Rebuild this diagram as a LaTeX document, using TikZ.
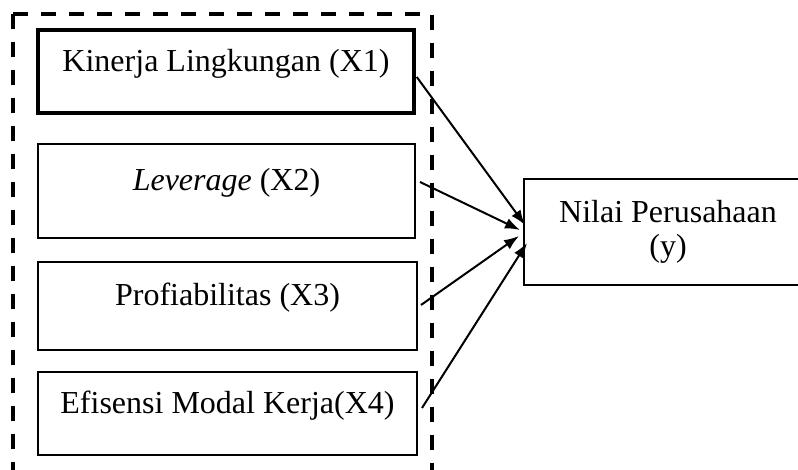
\documentclass[tikz,border=0pt]{standalone}
\usepackage{fontspec}
\setmainfont{Liberation Serif}
\usetikzlibrary{arrows.meta}
\begin{document}
\begin{tikzpicture}[x=1pt, y=1pt, font=\fontsize{32}{34}\selectfont, line join=miter, >={Latex[length=15pt,width=11pt]},
		varbox/.style={draw, line width=2pt, inner sep=0pt, text height=21pt, text depth=21pt},
		link/.style={->, line width=2pt}]
			\useasboundingbox (0,0) rectangle (798,470);
			\clip (0,0) rectangle (798,470);
			\draw[line width=4pt, dash pattern=on 15pt off 13pt] (13,456)--(13,-20);
			\draw[line width=4pt, dash pattern=on 15pt off 13pt] (13,456)--(432,456)--(432,-20);
			\node[varbox, line width=3.5pt, minimum width=376pt, minimum height=83pt] (x1) at (226,398.5) {Kinerja Lingkungan (X1)};
			\node[varbox, minimum width=377pt, minimum height=94pt] (x2) at (226.5,279) {\textit{Leverage} (X2)};
			\node[varbox, minimum width=379pt, minimum height=88pt] (x3) at (227.5,164) {Profiabilitas (X3)};
			\node[varbox, minimum width=379pt, minimum height=83pt] (x4) at (227.5,56.5) {Efisensi Modal Kerja(X4)};
			\node[draw, line width=2pt, align=center, minimum width=288pt, minimum height=106pt] (y) at (668,238) {Nilai Perusahaan\\(y)};
			\draw[link] ([shift={(1pt,-5.5pt)}]x1.east)--([shift={(2pt,7pt)}]y.west);
			\draw[link] ([shift={(4pt,9pt)}]x2.east)--([shift={(-3pt,2pt)}]y.west);
			\draw[link] ([shift={(3pt,1pt)}]x3.east)--([shift={(-4pt,-4pt)}]y.west);
			\draw[link] ([shift={(4pt,5.5pt)}]x4.east)--([shift={(4pt,-11pt)}]y.west);
		\end{tikzpicture}
\end{document}
